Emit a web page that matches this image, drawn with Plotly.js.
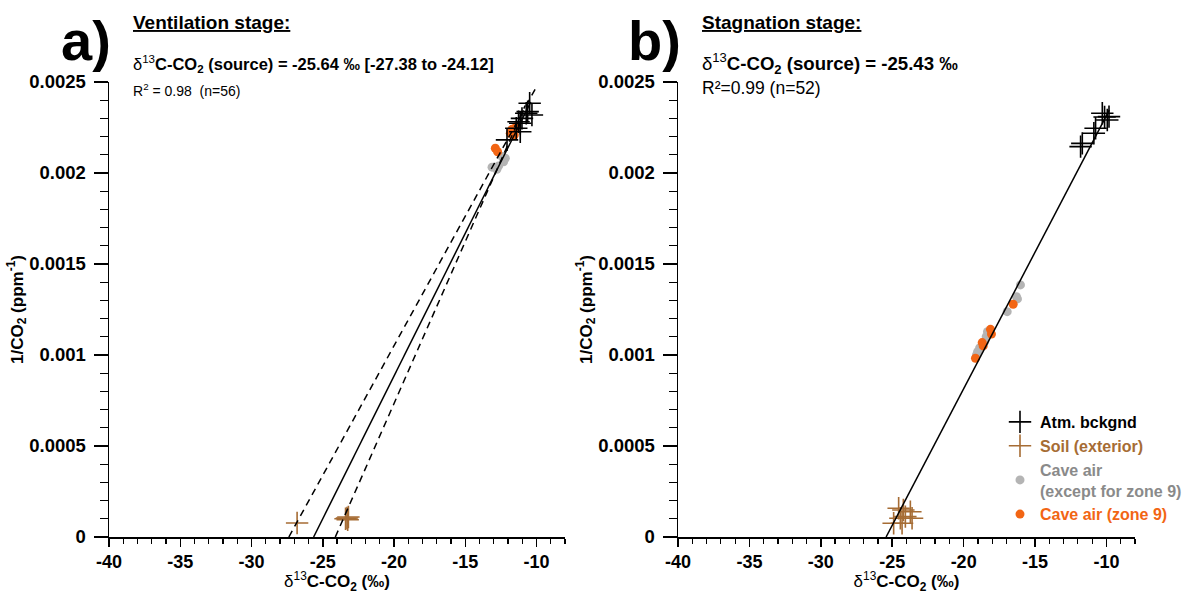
<!DOCTYPE html>
<html>
<head>
<meta charset="utf-8">
<script src="https://cdn.plot.ly/plotly-3.0.1.min.js"></script>
<style>
html,body{margin:0;padding:0;background:#fff;overflow:hidden;}
#chart{width:1191px;height:594px;}
</style>
</head>
<body>
<div id="chart"></div>
<script>
// ---------- DATA ----------
// Panel a (ventilation stage)
const atmA_x = [-10.48, -10.62, -10.32, -10.72, -11.02, -11.14, -11.26, -11.14, -12.07, -11.42];
const atmA_y = [0.002383, 0.002337, 0.002319, 0.002328, 0.002300, 0.002273, 0.002282, 0.002227, 0.002182, 0.002246];
const soilA_x = [-26.8, -23.3, -23.2, -23.4, -23.25];
const soilA_y = [0.000077, 0.000104, 0.000110, 0.000100, 0.000095];
const caveA_x = [-13.12, -12.66, -12.42, -12.19, -12.78, -12.31];
const caveA_y = [0.002032, 0.002039, 0.002090, 0.002081, 0.002020, 0.002062];
const zone9A_x = [-12.89, -12.73, -11.72, -11.42, -11.56, -11.84];
const zone9A_y = [0.002136, 0.002117, 0.002240, 0.002255, 0.002209, 0.002218];
const fitA_x = [-25.64, -10.4];
const fitA_y = [0, 0.00239];
const ciLowA_x = [-27.38, -10.1];
const ciLowA_y = [0, 0.00246];
const ciHighA_x = [-24.12, -10.8];
const ciHighA_y = [0, 0.00237];

// Panel b (stagnation stage)
const atmB_x = [-10.29, -9.82, -9.94, -10.13, -10.76, -10.88, -11.69, -11.81];
const atmB_y = [0.002328, 0.002310, 0.002291, 0.002308, 0.002246, 0.002218, 0.002163, 0.002145];
const soilB_x = [-24.55, -24.22, -23.73, -24.08, -23.61, -24.43, -24.90, -24.31];
const soilB_y = [0.000158, 0.000148, 0.000139, 0.000112, 0.000103, 0.000103, 0.0000753, 0.0000753];
const caveB_x = [-16.02, -16.30, -16.23, -16.95, -18.33, -18.42, -18.53, -19.02, -19.10, -18.88];
const caveB_y = [0.001385, 0.001320, 0.001308, 0.001238, 0.001128, 0.001100, 0.001073, 0.001018, 0.001000, 0.001039];
const zone9B_x = [-16.53, -18.12, -18.05, -18.70, -18.63, -19.17];
const zone9B_y = [0.001279, 0.001141, 0.001115, 0.001068, 0.001050, 0.000982];
const fitB_x = [-25.43, -9.8];
const fitB_y = [0, 0.002345];

// Tick labels
const xTickVals = [-40, -35, -30, -25, -20, -15, -10];
const xTickText = ['-40', '-35', '-30', '-25', '-20', '-15', '-10'];
const yTickVals = [0, 0.0005, 0.001, 0.0015, 0.002, 0.0025];
const yTickText = ['0', '0.0005', '0.001', '0.0015', '0.002', '0.0025'];

// Legend labels
const seriesNames = ['Atm. bckgnd', 'Soil (exterior)', 'Cave air<br>(except for zone 9)', 'Cave air (zone 9)'];

// ---------- STYLE ----------
const C_ATM = '#000000';
const C_SOIL = '#a66c34';
const C_CAVE = '#b4b4b4';
const C_CAVE_TXT = '#8a8a8a';
const C_Z9 = '#f26514';
const FONT = 'Liberation Sans, Arial, sans-serif';

function cross(x, y, color, xa, ya, name, show) {
  return {x: x, y: y, xaxis: xa, yaxis: ya, type: 'scatter', mode: 'markers',
    name: name, showlegend: show,
    marker: {symbol: 'cross-thin', size: 16, color: color, line: {color: color, width: 1.6}}};
}
function dots(x, y, color, xa, ya, name, show) {
  return {x: x, y: y, xaxis: xa, yaxis: ya, type: 'scatter', mode: 'markers',
    name: name, showlegend: show,
    marker: {symbol: 'circle', size: 9, color: color, line: {width: 0}}};
}
function line(x, y, xa, ya, dash) {
  return {x: x, y: y, xaxis: xa, yaxis: ya, type: 'scatter', mode: 'lines',
    showlegend: false, hoverinfo: 'skip',
    line: {color: '#000', width: 1.5, dash: dash}};
}

const nm = [
  '<span style="color:' + C_ATM + '">' + seriesNames[0] + '</span>',
  '<span style="color:' + C_SOIL + '">' + seriesNames[1] + '</span>',
  '<span style="color:' + C_CAVE_TXT + '">' + seriesNames[2] + '</span>',
  '<span style="color:' + C_Z9 + '">' + seriesNames[3] + '</span>'
];

const data = [
  dots(caveA_x, caveA_y, C_CAVE, 'x', 'y', nm[2], false),
  dots(zone9A_x, zone9A_y, C_Z9, 'x', 'y', nm[3], false),
  cross(soilA_x, soilA_y, C_SOIL, 'x', 'y', nm[1], false),
  cross(atmA_x, atmA_y, C_ATM, 'x', 'y', nm[0], false),
  line(fitA_x, fitA_y, 'x', 'y', 'solid'),
  line(ciLowA_x, ciLowA_y, 'x', 'y', '7px,5px'),
  line(ciHighA_x, ciHighA_y, 'x', 'y', '7px,5px'),

  cross(atmB_x, atmB_y, C_ATM, 'x2', 'y2', nm[0], true),
  cross(soilB_x, soilB_y, C_SOIL, 'x2', 'y2', nm[1], true),
  dots(caveB_x, caveB_y, C_CAVE, 'x2', 'y2', nm[2], true),
  dots(zone9B_x, zone9B_y, C_Z9, 'x2', 'y2', nm[3], true),
  line(fitB_x, fitB_y, 'x2', 'y2', 'solid')
];

const W = 1191, HT = 594, TOP = 82, BOT = 537, H = BOT - TOP;
function px(x) { return x / W; }
function py(y) { return (BOT - y) / H; }

function xaxisDef(d0, d1, anchor) {
  return {domain: [px(d0), px(d1)], range: [-40, -8], anchor: anchor,
    showline: true, linecolor: '#000', linewidth: 1.5, mirror: false,
    showgrid: false, zeroline: false,
    ticks: 'outside', ticklen: 8, tickwidth: 1.5, tickcolor: '#000',
    tickvals: xTickVals, ticktext: xTickText,
    tickfont: {family: FONT, size: 18, color: '#000', weight: 'bold'},
    minor: {ticks: 'outside', ticklen: 5, tickwidth: 1.2, tickcolor: '#000', dtick: 1, tick0: -40, showgrid: false},
    title: {text: 'δ<sup>13</sup><b>C-CO<sub>2</sub> (‰)</b>', standoff: 4,
      font: {family: FONT, size: 17, color: '#000'}}};
}
function yaxisDef(anchor) {
  return {domain: [0, 1], range: [0, 0.0025], anchor: anchor,
    showline: true, linecolor: '#000', linewidth: 1.5,
    showgrid: false, zeroline: false,
    ticks: 'outside', ticklen: 14, tickwidth: 1.5, tickcolor: '#000',
    ticklabelstandoff: 4,
    tickvals: yTickVals, ticktext: yTickText,
    tickfont: {family: FONT, size: 18.5, color: '#000', weight: 'bold'},
    minor: {ticks: 'outside', ticklen: 8, tickwidth: 1.2, tickcolor: '#000', dtick: 0.0001, tick0: 0, showgrid: false},
    title: {text: '<b>1/CO<sub>2</sub> (ppm<sup>-1</sup>)</b>', standoff: 1,
      font: {family: FONT, size: 17, color: '#000'}}};
}

function ann(x, y, text, size, opts) {
  return Object.assign({xref: 'paper', yref: 'paper', x: px(x), y: py(y), text: text,
    showarrow: false, xanchor: 'left', yanchor: 'middle',
    font: {family: FONT, size: size, color: '#000'}}, opts || {});
}

const annotations = [
  ann(86, 40, '<b>a)</b>', 56, {xanchor: 'center'}),
  ann(131, 22, '<b><u>Ventilation stage:</u></b>', 19),
  ann(131, 64, 'δ<sup>13</sup><b>C-CO<sub>2</sub> (source) = -25.64 ‰ [-27.38 to -24.12]</b>', 16.5),
  ann(131, 90, 'R<sup>2</sup> = 0.98  (n=56)', 14),
  ann(654, 40, '<b>b)</b>', 56, {xanchor: 'center'}),
  ann(700, 22, '<b><u>Stagnation stage:</u></b>', 19),
  ann(700, 64, 'δ<sup>13</sup><b>C-CO<sub>2</sub> (source) = -25.43 ‰</b>', 18.6),
  ann(700, 88, 'R²=0.99 (n=52)', 17.5)
];

const layout = {
  width: W, height: HT,
  margin: {l: 0, r: 0, t: TOP, b: HT - BOT, pad: 0},
  paper_bgcolor: '#fff', plot_bgcolor: '#fff',
  font: {family: FONT, color: '#000'},
  xaxis: xaxisDef(109, 565, 'y'),
  yaxis: yaxisDef('x'),
  xaxis2: xaxisDef(678, 1135, 'y2'),
  yaxis2: yaxisDef('x2'),
  showlegend: true,
  legend: {x: px(1000), y: py(405), xanchor: 'left', yanchor: 'top',
    bgcolor: 'rgba(0,0,0,0)', borderwidth: 0, tracegroupgap: 0,
    font: {family: FONT, size: 16, color: '#000', weight: 'bold'},
    itemwidth: 30},
  annotations: annotations
};

Plotly.newPlot('chart', data, layout, {staticPlot: true, displayModeBar: false});
</script>
</body>
</html>
